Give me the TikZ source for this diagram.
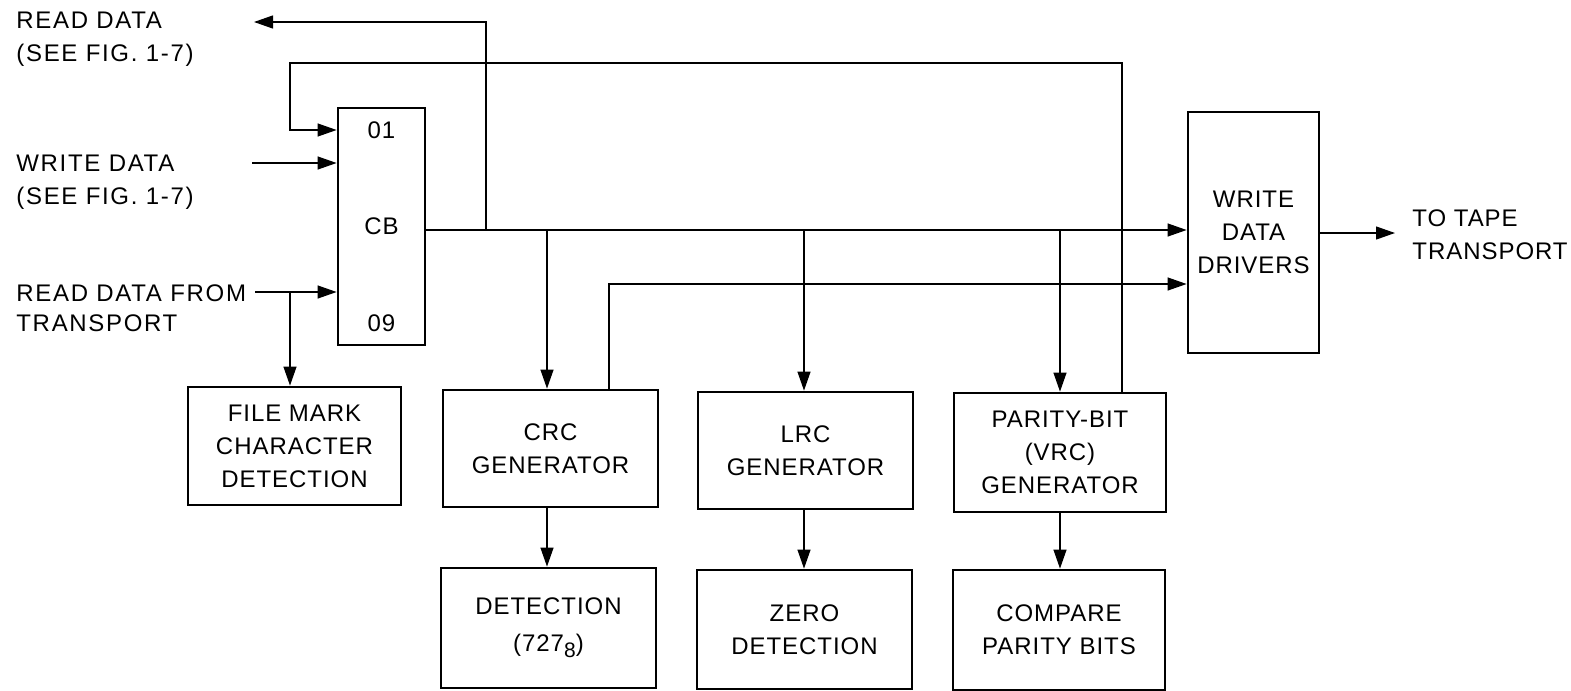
\documentclass[tikz,border=0pt]{standalone}
\usepackage{fontspec}
\setmainfont{Liberation Sans}[LetterSpace=4]
\newfontfamily\widefont{Liberation Sans}[LetterSpace=7]
\usetikzlibrary{arrows.meta}
\begin{document}
\begin{tikzpicture}[x=0.5pt,y=-0.5pt,
  txt/.style={font=\fontsize{12}{16.5}\selectfont},
  blk/.style={draw, line width=1.4pt, align=center, inner sep=0pt, txt},
  lbl/.style={align=left, anchor=west, inner sep=0pt, font=\widefont\fontsize{12}{16.5}\selectfont},
  wire/.style={line width=0.6pt},
  arr/.style={wire, -{Triangle[length=9.5pt,width=6.5pt]}}]
\useasboundingbox (0,0) rectangle (1571,691);

% blocks
\node[blk, minimum width=43.5pt, minimum height=118.5pt] (cb) at (381.5,226.5) {CB};
\node[txt, inner sep=0pt] (cb01) at (381.5,130) {01};
\node[txt, inner sep=0pt] (cb09) at (381.5,323) {09};
\node[blk, minimum width=65.5pt, minimum height=120.5pt] (wdd) at (1253.5,232.5) {WRITE\\DATA\\DRIVERS};
\node[blk, minimum width=106.5pt, minimum height=59pt] (fm) at (294.5,446) {FILE MARK\\CHARACTER\\DETECTION};
\node[blk, minimum width=107.5pt, minimum height=58.5pt] (crc) at (550.5,448.5) {CRC\\GENERATOR};
\node[blk, minimum width=107.5pt, minimum height=58.5pt] (lrc) at (805.5,450.5) {LRC\\GENERATOR};
\node[blk, minimum width=106pt, minimum height=59.5pt] (par) at (1060,452.5) {PARITY-BIT\\(VRC)\\GENERATOR};
\node[blk, minimum width=107.5pt, minimum height=60pt] (det) at (548.5,628) {DETECTION\\[2pt](727\raisebox{-0.45ex}{\fontsize{10.5}{10.5}\selectfont 8})};
\node[blk, minimum width=107.5pt, minimum height=59.5pt] (zero) at (804.5,629.5) {ZERO\\DETECTION};
\node[blk, minimum width=106pt, minimum height=60pt] (cmp) at (1059,630) {COMPARE\\PARITY BITS};

% outside labels
\node[lbl] (rdlbl) at (16,39) {READ DATA\\(SEE FIG. 1-7)};
\node[lbl] (wdlbl) at (16,182) {WRITE DATA\\(SEE FIG. 1-7)};
\node[lbl] (rtlbl1) at (16,293.5) {READ DATA\hspace{0.35em}FROM};
\node[lbl] (rtlbl2) at (16,323.5) {TRANSPORT};
\node[lbl, txt] (ttlbl) at (1412,235) {TO TAPE\\TRANSPORT};

% helper coordinates
\coordinate (bus) at (426,230);
\coordinate (j1) at (486,230);
\coordinate (rdtip) at (254,22);
\coordinate (fa) at (1122,63);
\coordinate (fb) at (290,63);
\coordinate (y01) at (0,130);
\coordinate (wds) at (252,163);
\coordinate (rts) at (255,292);
\coordinate (br) at (290,292);
\coordinate (t1) at (547,230);
\coordinate (t2) at (804,230);
\coordinate (t3) at (1060,230);
\coordinate (cf) at (609,284);
\coordinate (tt) at (1395,233);

% connectors
\draw[arr] (cb.east |- bus) -- (wdd.west |- bus);
\draw[arr] (j1) |- (rdtip);
\draw[arr] (par.north -| fa) -- (fa) -- (fb) -- (fb |- y01) -- (cb.west |- y01);
\draw[arr] (wds) -- (cb.west |- wds);
\draw[arr] (rts) -- (cb.west |- rts);
\draw[arr] (br) -- (br |- fm.north);
\draw[arr] (t1) -- (t1 |- crc.north);
\draw[arr] (t2) -- (t2 |- lrc.north);
\draw[arr] (t3) -- (t3 |- par.north);
\draw[arr] (crc.north -| cf) -- (cf) -- (wdd.west |- cf);
\draw[arr] (wdd.east |- tt) -- (tt);
\draw[arr] (crc.south -| t1) -- (det.north -| t1);
\draw[arr] (lrc.south -| t2) -- (zero.north -| t2);
\draw[arr] (par.south -| t3) -- (cmp.north -| t3);
\end{tikzpicture}
\end{document}
